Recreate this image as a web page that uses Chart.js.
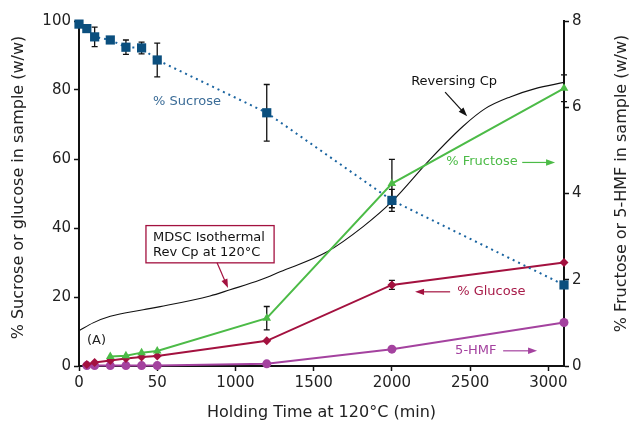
<!DOCTYPE html>
<html><head><meta charset="utf-8">
<script src="https://cdn.jsdelivr.net/npm/chart.js@4.4.1/dist/chart.umd.min.js"></script>
<style>html,body{margin:0;padding:0;background:#fff}#wrap{width:634px;height:425px;position:relative}</style>
</head><body><div id="wrap"><canvas id="c"></canvas></div>
<script>
// ---- data (time in minutes) ----
const xTickMinutes = [0, 50, 1000, 1500, 2000, 2500, 3000];
const xTickLabels = ['0', '50', '1000', '1500', '2000', '2500', '3000'];

const sucroseTime = [0, 5, 10, 20, 30, 40, 50, 1200, 2000, 3100];
const sucrose     = [99.1, 97.8, 95.4, 94.5, 92.4, 92.2, 88.7, 73.4, 48.0, 23.5];
const sucroseErr  = [0, 0, 2.8, 0, 2.1, 1.7, 4.9, 8.2, 3.2, 0];

const glucoseTime = [5, 10, 20, 30, 40, 50, 1200, 2000, 3100];
const glucose     = [0.4, 1.0, 1.6, 2.2, 2.6, 2.9, 7.3, 23.5, 30.0];
const glucoseErr  = [0, 0, 0, 0, 0, 0, 0, 1.3, 0];

const fructoseTime = [20, 30, 40, 50, 1200, 2000, 3100];
const fructose     = [0.22, 0.24, 0.31, 0.35, 1.11, 4.23, 6.44];
const fructoseErr  = [0, 0, 0, 0, 0.27, 0.56, 0.31];

const hmfTime = [5, 10, 20, 30, 40, 50, 1200, 2000, 3100];
const hmf     = [0.01, 0.01, 0.01, 0.01, 0.01, 0.01, 0.05, 0.39, 1.01];

const cpTime = [0, 9, 20, 41, 86, 691, 934, 1157, 1285, 1586, 1816, 2001, 2244, 2455, 2596, 2756, 2916, 3100];
const cp     = [10.2, 12.5, 14.4, 16.3, 17.2, 20.3, 22.1, 24.9, 27.3, 33.1, 40.4, 47.7, 59.9, 69.5, 74.6, 78.0, 80.4, 82.2];

// piecewise (broken) time axis: 0-50, 50-1000, then linear per 500 min
function T(m) {
  if (m <= 50) return m / 50;
  if (m <= 1000) return 1 + (m - 50) / 950;
  return 2 + (m - 1000) / 500;
}
const pts = (ts, vs) => ts.map((t, i) => ({ x: T(t), y: vs[i] }));

const C_SUC = '#0b4f7e', C_GLU = '#a3113f', C_FRU = '#4cbb47', C_HMF = '#a4429f';
const FONT = "'DejaVu Sans', sans-serif";

const errorBars = {
  id: 'errorBars',
  beforeDatasetsDraw(chart) {
    const ctx = chart.ctx, xs = chart.scales.x;
    const sets = [
      [sucroseTime, sucrose, sucroseErr, chart.scales.yL],
      [glucoseTime, glucose, glucoseErr, chart.scales.yL],
      [fructoseTime, fructose, fructoseErr, chart.scales.yR]
    ];
    ctx.save();
    ctx.strokeStyle = '#111';
    ctx.lineWidth = 1.3;
    sets.forEach(([ts, vs, es, ys]) => {
      ts.forEach((t, i) => {
        if (!es[i]) return;
        const x = xs.getPixelForValue(T(t));
        const y1 = ys.getPixelForValue(vs[i] + es[i]);
        const y2 = ys.getPixelForValue(vs[i] - es[i]);
        ctx.beginPath();
        ctx.moveTo(x, y1); ctx.lineTo(x, y2);
        ctx.moveTo(x - 3, y1); ctx.lineTo(x + 3, y1);
        ctx.moveTo(x - 3, y2); ctx.lineTo(x + 3, y2);
        ctx.stroke();
      });
    });
    ctx.restore();
  }
};

const annotations = {
  id: 'annotations',
  afterDraw(chart) {
    const ctx = chart.ctx, xs = chart.scales.x, ys = chart.scales.yL;
    const P = (m, v) => [xs.getPixelForValue(T(m)), ys.getPixelForValue(v)];
    const text = (s, m, v, color, size) => {
      const [x, y] = P(m, v);
      ctx.font = size + 'px ' + FONT;
      ctx.fillStyle = color;
      ctx.textAlign = 'left';
      ctx.textBaseline = 'middle';
      ctx.fillText(s, x, y);
    };
    const arrow = (m1, v1, m2, v2, color) => {
      const [x1, y1] = P(m1, v1), [x2, y2] = P(m2, v2);
      const a = Math.atan2(y2 - y1, x2 - x1);
      ctx.strokeStyle = color; ctx.fillStyle = color; ctx.lineWidth = 1.2;
      ctx.beginPath(); ctx.moveTo(x1, y1);
      ctx.lineTo(x2 - 6 * Math.cos(a), y2 - 6 * Math.sin(a)); ctx.stroke();
      ctx.beginPath();
      ctx.moveTo(x2, y2);
      ctx.lineTo(x2 - 9 * Math.cos(a) + 3.2 * Math.sin(a), y2 - 9 * Math.sin(a) - 3.2 * Math.cos(a));
      ctx.lineTo(x2 - 9 * Math.cos(a) - 3.2 * Math.sin(a), y2 - 9 * Math.sin(a) + 3.2 * Math.cos(a));
      ctx.closePath(); ctx.fill();
    };
    ctx.save();
    text('% Sucrose', 47.3, 76.7, '#3b6c97', 13);
    text('Reversing Cp', 2123, 82.3, '#111', 13);
    arrow(2340, 79.4, 2481, 72.4, '#111');
    text('% Fructose', 2347, 59.3, C_FRU, 13);
    arrow(2833, 59.0, 3043, 59.0, C_FRU);
    text('% Glucose', 2417, 21.5, '#a81c4a', 13);
    arrow(2372, 21.5, 2148, 21.5, C_GLU);
    text('5-HMF', 2404, 4.4, C_HMF, 13);
    arrow(2711, 4.4, 2928, 4.4, C_HMF);
    text('(A)', 5.1, 7.3, '#222', 13);
    // boxed label
    const [bx1, by1] = P(42.8, 40.7), [bx2, by2] = P(1247, 29.9);
    ctx.fillStyle = '#fff'; ctx.fillRect(bx1, by1, bx2 - bx1, by2 - by1);
    ctx.strokeStyle = '#a3113f'; ctx.lineWidth = 1.3;
    ctx.strokeRect(bx1, by1, bx2 - bx1, by2 - by1);
    text('MDSC Isothermal', 47.3, 37.2, '#111', 13);
    text('Rev Cp at 120°C', 47.3, 32.8, '#111', 13);
    arrow(776.5, 29.9, 910, 22.6, C_GLU);
    // rotated axis titles
    const ca = chart.chartArea;
    ctx.font = '16px ' + FONT; ctx.fillStyle = '#222';
    ctx.textAlign = 'center'; ctx.textBaseline = 'middle';
    ctx.save(); ctx.translate(19, ca.top + (ca.bottom - ca.top) / 2 - 6); ctx.rotate(-Math.PI / 2);
    ctx.fillText('% Sucrose or glucose in sample (w/w)', 0, 0); ctx.restore();
    ctx.save(); ctx.translate(622, ca.top + (ca.bottom - ca.top) / 2 - 10); ctx.rotate(-Math.PI / 2);
    ctx.fillText('% Fructose or 5-HMF in sample (w/w)', 0, 0); ctx.restore();
    ctx.restore();
  }
};

const axisCommon = (min, max, step, pos, w) => ({
  type: 'linear', position: pos, min, max,
  ticks: { stepSize: step, font: { family: FONT, size: 15 }, color: '#222', padding: 3 },
  grid: { display: true, drawOnChartArea: false, drawTicks: true, tickLength: 5, tickColor: '#111', tickWidth: 1.5 },
  border: { display: true, color: '#111', width: 2 },
  title: { display: false },
  afterFit: s => { s.width = w; }
});

new Chart(document.getElementById('c'), {
  type: 'line',
  data: {
    datasets: [
      { label: '% Sucrose', data: pts(sucroseTime, sucrose), yAxisID: 'yL', borderColor: '#1a64a0', backgroundColor: C_SUC,
        borderWidth: 2, borderDash: [2, 4], pointStyle: 'rect', pointRadius: 6.5, pointBorderColor: C_SUC, pointBackgroundColor: C_SUC, pointBorderWidth: 0, clip: false },
      { label: '% Fructose', data: pts(fructoseTime, fructose), yAxisID: 'yR', borderColor: C_FRU, backgroundColor: C_FRU,
        borderWidth: 2, pointStyle: 'triangle', pointRadius: 5, pointBorderWidth: 0, pointBackgroundColor: C_FRU, clip: false },
      { label: '% Glucose', data: pts(glucoseTime, glucose), yAxisID: 'yL', borderColor: C_GLU, backgroundColor: C_GLU,
        borderWidth: 2, pointStyle: 'rectRot', pointRadius: 4.5, pointBorderWidth: 0, pointBackgroundColor: C_GLU, clip: false },
      { label: '5-HMF', data: pts(hmfTime, hmf), yAxisID: 'yR', borderColor: C_HMF, backgroundColor: C_HMF,
        borderWidth: 2, pointStyle: 'circle', pointRadius: 4.5, pointBorderWidth: 0, pointBackgroundColor: C_HMF, clip: false },
      { label: 'Reversing Cp', data: pts(cpTime, cp), yAxisID: 'yL', borderColor: '#111', borderWidth: 1.1,
        pointRadius: 0, cubicInterpolationMode: 'monotone', clip: false }
    ]
  },
  options: {
    responsive: true, maintainAspectRatio: false, animation: false,
    layout: { padding: { top: 21, left: 0, right: 0, bottom: 0 } },
    plugins: { legend: { display: false }, tooltip: { enabled: false } },
    scales: {
      x: {
        type: 'linear', position: 'bottom', min: 0, max: T(3100),
        afterBuildTicks: s => { s.ticks = xTickMinutes.map(m => ({ value: T(m) })); },
        ticks: { callback: (v, i) => xTickLabels[i], autoSkip: false, maxRotation: 0, font: { family: FONT, size: 15 }, color: '#222', padding: 3 },
        grid: { display: true, drawOnChartArea: false, drawTicks: true, tickLength: 5, tickColor: '#111', tickWidth: 1.5 },
        border: { display: true, color: '#111', width: 2 },
        title: { display: true, text: 'Holding Time at 120°C (min)', font: { family: FONT, size: 16 }, color: '#222', padding: { top: 0, bottom: 3 } },
        afterFit: s => { s.height = 59; }
      },
      yL: axisCommon(0, 100, 20, 'left', 79),
      yR: axisCommon(0, 8, 2, 'right', 70)
    }
  },
  plugins: [errorBars, annotations]
});
</script>
</body></html>
